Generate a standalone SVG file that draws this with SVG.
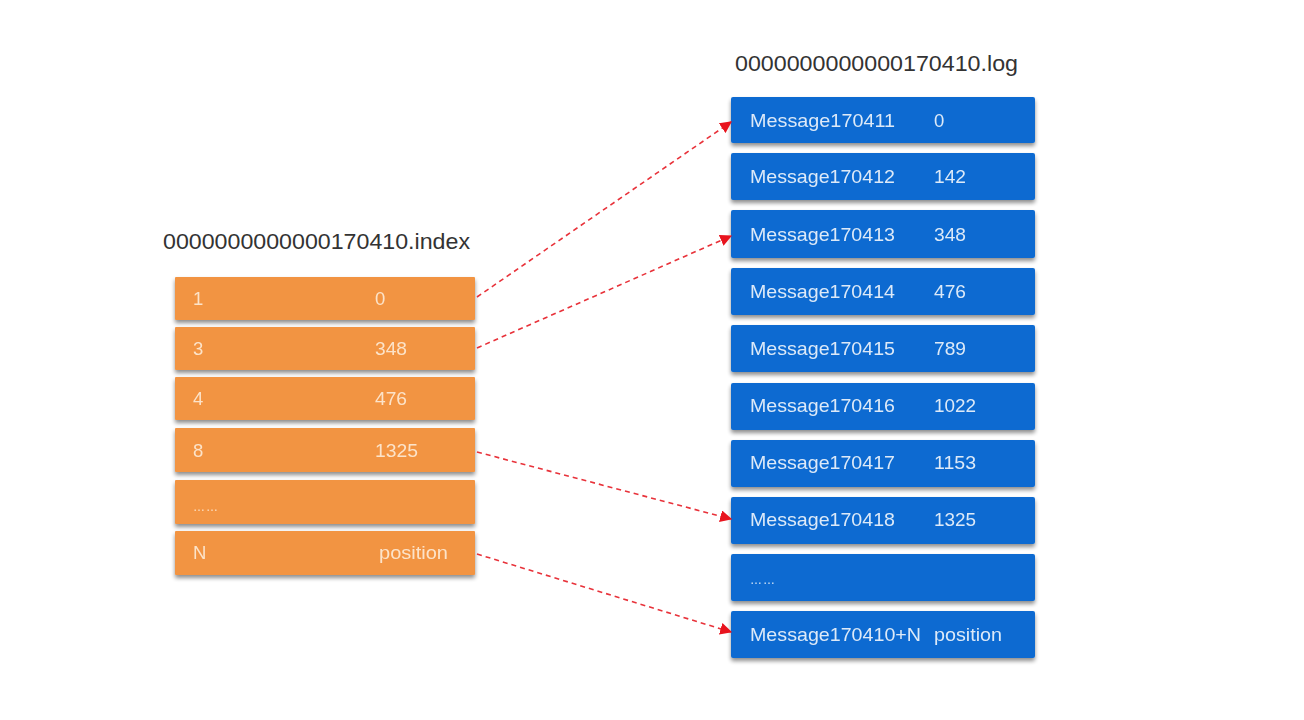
<svg xmlns="http://www.w3.org/2000/svg" width="1304" height="720" viewBox="0 0 1304 720">
<style>
.t{font-family:"Liberation Sans",Arial,sans-serif;}
.title{font-size:22px;fill:#333;}
.ob{fill:#f29442;}
.bb{fill:#0b6bd1;}
.ot{font-size:18.5px;fill:#fce3c9;}
.bt{font-size:18.5px;fill:#dde9f8;}
.c{stroke:#e8323a;stroke-width:1.6;stroke-dasharray:5,4;fill:none;}
</style>
<defs>
<filter id="sh" x="-10%" y="-20%" width="120%" height="160%">
<feGaussianBlur in="SourceAlpha" stdDeviation="2"/>
<feOffset dx="0" dy="3"/>
<feComponentTransfer><feFuncA type="linear" slope="0.45"/></feComponentTransfer>
<feMerge><feMergeNode/><feMergeNode in="SourceGraphic"/></feMerge>
</filter>
<marker id="ah" viewBox="0 0 10 10" refX="9" refY="5" markerWidth="12" markerHeight="12" markerUnits="userSpaceOnUse" orient="auto">
<path d="M0,0 L10,5 L0,10 z" fill="#e8141e"/>
</marker>
</defs>
<rect width="1304" height="720" fill="#ffffff"/>
<text class="t title" x="163" y="249" textLength="307" lengthAdjust="spacingAndGlyphs">0000000000000170410.index</text>
<text class="t title" x="735" y="71" textLength="283" lengthAdjust="spacingAndGlyphs">0000000000000170410.log</text>

<g id="index" filter="url(#sh)">
<g id="i1"><rect class="ob" x="175" y="277" width="300" height="43" rx="1"/><text class="t ot" x="193" y="305">1</text><text class="t ot" x="375" y="305">0</text></g>
<g id="i3"><rect class="ob" x="175" y="327" width="300" height="43" rx="1"/><text class="t ot" x="193" y="355">3</text><text class="t ot" x="375" y="355" textLength="32" lengthAdjust="spacingAndGlyphs">348</text></g>
<g id="i4"><rect class="ob" x="175" y="377" width="300" height="43" rx="1"/><text class="t ot" x="193" y="405">4</text><text class="t ot" x="375" y="405" textLength="32" lengthAdjust="spacingAndGlyphs">476</text></g>
<g id="i8"><rect class="ob" x="175" y="428" width="300" height="44" rx="1"/><text class="t ot" x="193" y="457">8</text><text class="t ot" x="375" y="457" textLength="43" lengthAdjust="spacingAndGlyphs">1325</text></g>
<g id="idots"><rect class="ob" x="175" y="480" width="300" height="44" rx="1"/><text class="t ot" x="193" y="511" style="font-size:12px;letter-spacing:1px">……</text></g>
<g id="iN"><rect class="ob" x="175" y="531" width="300" height="44" rx="1"/><text class="t ot" x="193" y="559">N</text><text class="t ot" x="379" y="559" textLength="69" lengthAdjust="spacingAndGlyphs">position</text></g>
</g>

<g id="log" filter="url(#sh)">
<g id="m1"><rect class="bb" x="731" y="97" width="304" height="46" rx="2"/><text class="t bt" x="750" y="127" textLength="145" lengthAdjust="spacingAndGlyphs">Message170411</text><text class="t bt" x="934" y="127">0</text></g>
<g id="m2"><rect class="bb" x="731" y="153" width="304" height="47" rx="2"/><text class="t bt" x="750" y="183" textLength="145" lengthAdjust="spacingAndGlyphs">Message170412</text><text class="t bt" x="934" y="183" textLength="32" lengthAdjust="spacingAndGlyphs">142</text></g>
<g id="m3"><rect class="bb" x="731" y="210" width="304" height="48" rx="2"/><text class="t bt" x="750" y="241" textLength="145" lengthAdjust="spacingAndGlyphs">Message170413</text><text class="t bt" x="934" y="241" textLength="32" lengthAdjust="spacingAndGlyphs">348</text></g>
<g id="m4"><rect class="bb" x="731" y="268" width="304" height="47" rx="2"/><text class="t bt" x="750" y="298" textLength="145" lengthAdjust="spacingAndGlyphs">Message170414</text><text class="t bt" x="934" y="298" textLength="32" lengthAdjust="spacingAndGlyphs">476</text></g>
<g id="m5"><rect class="bb" x="731" y="325" width="304" height="47" rx="2"/><text class="t bt" x="750" y="355" textLength="145" lengthAdjust="spacingAndGlyphs">Message170415</text><text class="t bt" x="934" y="355" textLength="32" lengthAdjust="spacingAndGlyphs">789</text></g>
<g id="m6"><rect class="bb" x="731" y="383" width="304" height="47" rx="2"/><text class="t bt" x="750" y="412" textLength="145" lengthAdjust="spacingAndGlyphs">Message170416</text><text class="t bt" x="934" y="412" textLength="42" lengthAdjust="spacingAndGlyphs">1022</text></g>
<g id="m7"><rect class="bb" x="731" y="440" width="304" height="47" rx="2"/><text class="t bt" x="750" y="469" textLength="145" lengthAdjust="spacingAndGlyphs">Message170417</text><text class="t bt" x="934" y="469" textLength="42" lengthAdjust="spacingAndGlyphs">1153</text></g>
<g id="m8"><rect class="bb" x="731" y="497" width="304" height="47" rx="2"/><text class="t bt" x="750" y="526" textLength="145" lengthAdjust="spacingAndGlyphs">Message170418</text><text class="t bt" x="934" y="526" textLength="42" lengthAdjust="spacingAndGlyphs">1325</text></g>
<g id="mdots"><rect class="bb" x="731" y="554" width="304" height="47" rx="2"/><text class="t bt" x="750" y="584" style="font-size:12px;letter-spacing:1px">……</text></g>
<g id="mN"><rect class="bb" x="731" y="611" width="304" height="47" rx="2"/><text class="t bt" x="750" y="641" textLength="171" lengthAdjust="spacingAndGlyphs">Message170410+N</text><text class="t bt" x="934" y="641" textLength="68" lengthAdjust="spacingAndGlyphs">position</text></g>
</g>

<g id="connectors">
<line class="c" x1="477" y1="297" x2="731" y2="122" marker-end="url(#ah)"/>
<line class="c" x1="477" y1="348" x2="731" y2="236" marker-end="url(#ah)"/>
<line class="c" x1="477" y1="452" x2="731" y2="519" marker-end="url(#ah)"/>
<line class="c" x1="477" y1="554" x2="731" y2="632" marker-end="url(#ah)"/>
</g>
</svg>
